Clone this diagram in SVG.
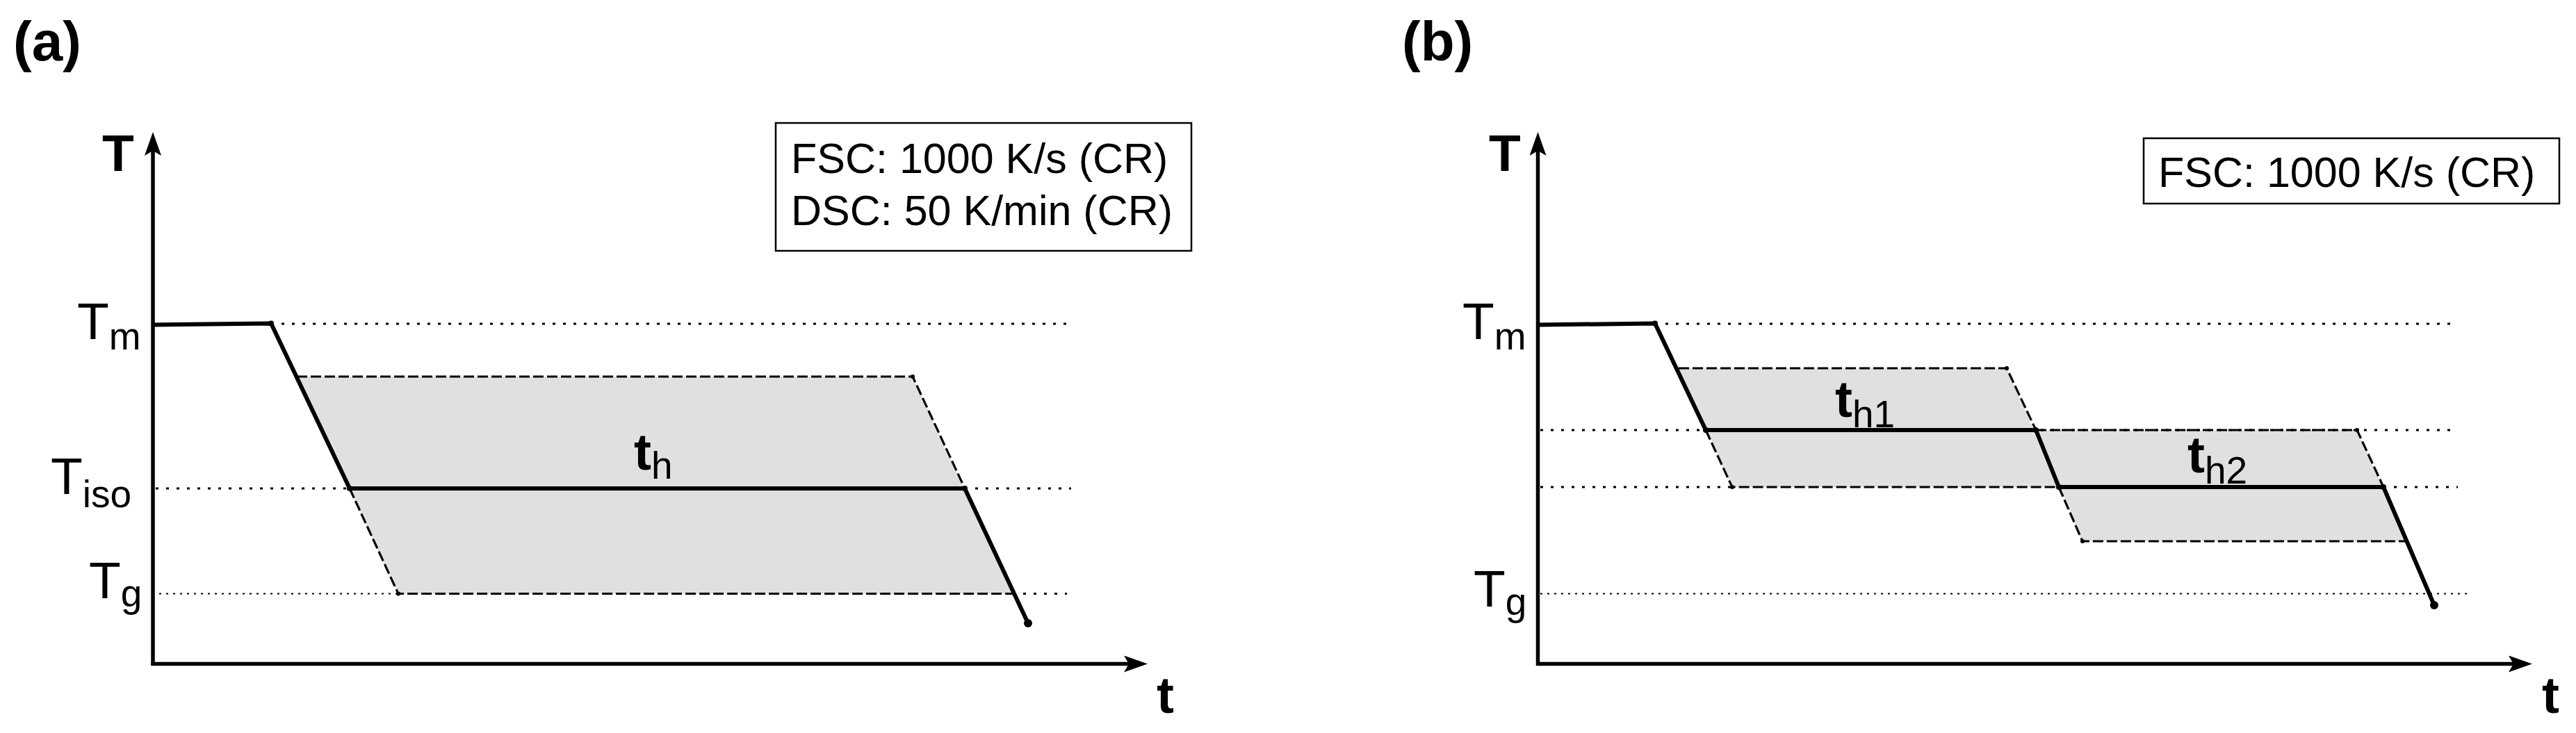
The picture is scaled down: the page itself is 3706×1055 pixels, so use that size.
<svg xmlns="http://www.w3.org/2000/svg" width="3706" height="1055" viewBox="0 0 3706 1055">
<style>
text{font-family:"Liberation Sans",Arial,sans-serif;fill:#000}
.lbl{font-size:80px;font-weight:bold}
.ax{font-size:75px;font-weight:bold}
.tl{font-size:75px}
.sub{font-size:55px;font-weight:normal}
.box{font-size:61px}
.axis{stroke:#000;stroke-width:5.5;fill:none}
.thick{stroke:#000;stroke-width:6;fill:none;stroke-linejoin:round}
.dash{stroke:#000;stroke-width:3.2;fill:none;stroke-dasharray:15 5}
.dot{stroke:#000;stroke-width:3.2;fill:none;stroke-dasharray:4 11}
.fdot{stroke:#000;stroke-width:2.2;fill:none;stroke-dasharray:3 7}
.shade{fill:#e0e0e0;stroke:none}
.frame{fill:#fff;stroke:#000;stroke-width:2.5}
</style>
<defs>
<marker id="arr" markerUnits="userSpaceOnUse" markerWidth="36" markerHeight="26" refX="7" refY="12" orient="auto">
<path d="M0,0 L34,12 L0,24 L7,12 z" fill="#000"/>
</marker>
</defs>
<rect width="3706" height="1055" fill="#fff"/>

<g id="panel-a">
<g id="a-shade"><polygon class="shade" points="427,542 1313,542 1457,854.5 573,854.5"/></g>
<g id="a-guides">
<line class="dot" x1="390" y1="466" x2="1538" y2="466"/>
<line class="dot" x1="224" y1="703" x2="503" y2="703"/>
<line class="dot" x1="1388" y1="703" x2="1541" y2="703"/>
<line class="fdot" x1="229" y1="854.5" x2="573" y2="854.5"/>
<line class="dot" x1="1457" y1="854.5" x2="1535" y2="854.5"/>
</g>
<g id="a-window">
<path class="dash" d="M427,542 L1313,542 L1388,703"/>
<path class="dash" d="M503,703 L573,854.5 L1457,854.5"/>
</g>
<g id="a-axes">
<line class="axis" x1="220" y1="958" x2="220" y2="217" marker-end="url(#arr)"/>
<line class="axis" x1="217.5" y1="955.5" x2="1624" y2="955.5" marker-end="url(#arr)"/>
</g>
<g id="a-profile">
<path class="thick" d="M220,467.5 L390,465.5 L503,703 L1388,703 L1479,897"/>
<circle cx="390" cy="465.5" r="4"/><circle cx="503" cy="703" r="4"/><circle cx="1388" cy="703" r="4"/>
<circle cx="1313" cy="542" r="3"/><circle cx="573" cy="854.5" r="3"/>
<circle cx="1479" cy="897" r="6"/>
</g>
<g id="a-labels">
<text class="lbl" x="19" y="87">(a)</text>
<text class="ax" x="147" y="246">T</text>
<text class="ax" x="1664" y="1026">t</text>
<text class="tl" x="111" y="488">T<tspan class="sub" dy="15">m</tspan></text>
<text class="tl" x="73" y="711">T<tspan class="sub" dy="19">iso</tspan></text>
<text class="tl" x="128" y="861">T<tspan class="sub" dy="12">g</tspan></text>
<text class="ax" x="912" y="676">t<tspan class="sub" dy="13">h</tspan></text>
</g>
<g id="a-legend">
<rect class="frame" x="1116" y="177" width="598" height="184"/>
<text class="box" x="1138" y="249">FSC: 1000 K/s (CR)</text>
<text class="box" x="1138" y="324">DSC: 50 K/min (CR)</text>
</g>
</g>

<g id="panel-b">
<g id="b-shade">
<polygon class="shade" points="2415,530 2887,530 2962,701 2492,701"/>
<polygon class="shade" points="2929,619 3391,619 3462,779 2996,779"/>
</g>
<g id="b-guides">
<line class="dot" x1="2381" y1="466" x2="3531" y2="466"/>
<line class="dot" x1="2216" y1="619" x2="3536" y2="619"/>
<line class="dot" x1="2216" y1="701" x2="2492" y2="701"/>
<line class="dot" x1="3429" y1="701" x2="3536" y2="701"/>
<line class="fdot" x1="2216" y1="854.5" x2="3553" y2="854.5"/>
</g>
<g id="b-window">
<path class="dash" d="M2415,530 L2887,530 L2929,619"/>
<path class="dash" d="M2454,619 L2492,701 L2962,701"/>
<path class="dash" d="M2929,619 L3391,619 L3429,701"/>
<path class="dash" d="M2962,701 L2996,779 L3462,779"/>
</g>
<g id="b-axes">
<line class="axis" x1="2212.5" y1="958" x2="2212.5" y2="217" marker-end="url(#arr)"/>
<line class="axis" x1="2210" y1="955.5" x2="3616" y2="955.5" marker-end="url(#arr)"/>
</g>
<g id="b-profile">
<path class="thick" d="M2212.5,467.5 L2381,465.5 L2454,619 L2929,619 L2962,701 L3429,701 L3502,871"/>
<circle cx="2381" cy="465.5" r="4"/><circle cx="2454" cy="619" r="4"/><circle cx="2929" cy="619" r="4"/>
<circle cx="2962" cy="701" r="4"/><circle cx="3429" cy="701" r="4"/>
<circle cx="2887" cy="530" r="3"/><circle cx="2492" cy="701" r="3"/><circle cx="3391" cy="619" r="3"/><circle cx="2996" cy="779" r="3"/>
<circle cx="3502" cy="871" r="6"/>
</g>
<g id="b-labels">
<text class="lbl" x="2017" y="87">(b)</text>
<text class="ax" x="2142" y="246">T</text>
<text class="ax" x="3657" y="1026">t</text>
<text class="tl" x="2104" y="488">T<tspan class="sub" dy="15">m</tspan></text>
<text class="tl" x="2120" y="873">T<tspan class="sub" dy="12">g</tspan></text>
<text class="ax" x="2640" y="600">t<tspan class="sub" dy="15">h1</tspan></text>
<text class="ax" x="3147" y="680">t<tspan class="sub" dy="16">h2</tspan></text>
</g>
<g id="b-legend">
<rect class="frame" x="3084" y="199" width="598" height="94"/>
<text class="box" x="3105" y="269">FSC: 1000 K/s (CR)</text>
</g>
</g>
</svg>
